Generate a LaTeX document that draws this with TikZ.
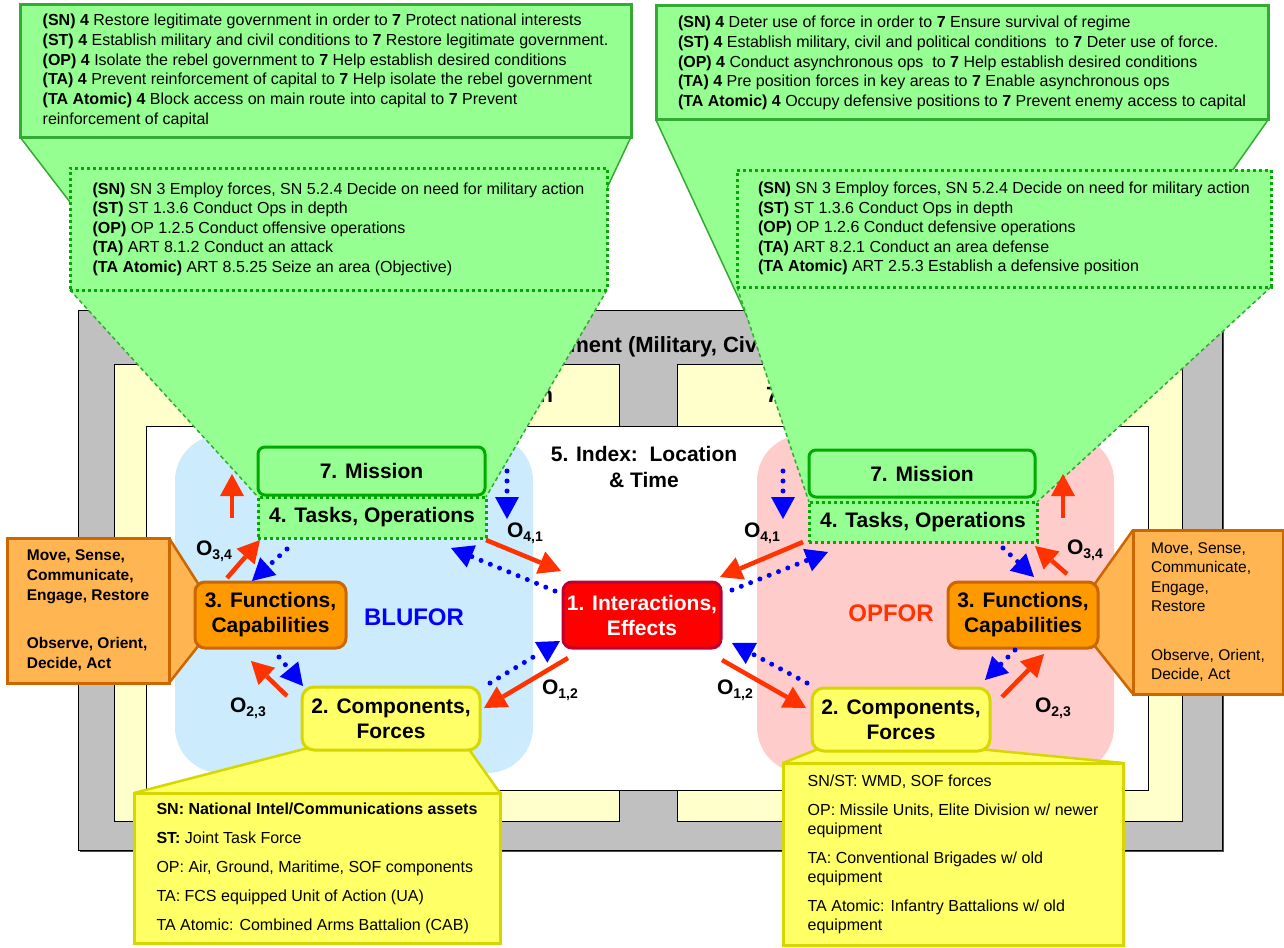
\documentclass[tikz,border=0pt]{standalone}
\usepackage{fontspec}
\setmainfont{Liberation Sans}
\usetikzlibrary{arrows.meta,calc}

\definecolor{envgray}{RGB}{192,192,192}
\definecolor{paleyellow}{RGB}{255,255,204}
\definecolor{bluezone}{RGB}{204,235,252}
\definecolor{redzone}{RGB}{255,204,204}
\definecolor{calloutgreen}{RGB}{150,255,145}
\definecolor{edgegreen}{RGB}{51,170,51}
\definecolor{boxgreen}{RGB}{0,170,0}
\definecolor{effectred}{RGB}{255,0,0}
\definecolor{effectedge}{RGB}{192,0,48}
\definecolor{funcorange}{RGB}{255,153,0}
\definecolor{orangeedge}{RGB}{204,102,0}
\definecolor{paleorange}{RGB}{255,182,82}
\definecolor{compyellow}{RGB}{255,255,102}
\definecolor{yellowedge}{RGB}{214,214,0}
\definecolor{arrowred}{RGB}{255,51,0}
\definecolor{arrowblue}{RGB}{0,0,255}

\pgfdeclarelayer{back}
\pgfdeclarelayer{wedge}
\pgfsetlayers{back,wedge,main}

\newcommand\setfs[2]{\fontsize{#1}{#2}\selectfont}
\newcommand\olab[1]{\bfseries\setfs{21}{21}O\raisebox{-4.5pt}{\setfs{14}{14}#1}}

\begin{document}
\begin{tikzpicture}[x=1pt,y=-1pt,
  every node/.style={inner sep=0pt,outer sep=0pt},
  frame/.style={draw=black,line width=1pt},
  toplbl/.style={font=\bfseries\setfs{22}{24}},
  bignum/.style={font=\bfseries\setfs{21}{25},align=center},
  missionbox/.style={bignum,draw=boxgreen,line width=3pt,fill=calloutgreen,rounded corners=7pt},
  taskbox/.style={bignum,draw=boxgreen,line width=3pt,fill=calloutgreen,dash pattern=on 3pt off 3pt},
  goalbox/.style={draw=edgegreen,line width=3pt,fill=calloutgreen,align=left,font=\setfs{16}{19.7}},
  refbox/.style={draw=boxgreen,line width=3pt,dash pattern=on 3pt off 3pt,fill=calloutgreen,align=left,font=\setfs{16}{19.5}},
  solidedge/.style={draw=edgegreen,line width=1.5pt},
  dashededge/.style={draw=edgegreen,line width=1.5pt,dash pattern=on 4pt off 3pt},
  effectbox/.style={bignum,fill=effectred,draw=effectedge,line width=3pt,rounded corners=9pt,text=white},
  funcbox/.style={bignum,fill=funcorange,draw=orangeedge,line width=3pt,rounded corners=10pt},
  capbox/.style={fill=paleorange,draw=orangeedge,line width=3pt,align=left},
  orangeline/.style={draw=orangeedge,line width=2.5pt},
  compbox/.style={bignum,fill=compyellow,draw=yellowedge,line width=3pt,rounded corners=12pt},
  forcebox/.style={fill=compyellow,draw=yellowedge,line width=3pt,align=left,font=\setfs{16}{19}},
  yellowline/.style={draw=yellowedge,line width=2.5pt},
  redarr/.style={draw=arrowred,line width=4.5pt,-{Triangle[length=22pt,width=24pt,line width=0pt]}},
  bluearr/.style={draw=arrowblue,line width=5pt,line cap=round,dash pattern=on 0pt off 10pt,
    -{Triangle[length=22pt,width=24pt,line width=0pt]}},
  olabel/.style={anchor=base west}
]
\useasboundingbox (0,0) rectangle (1284,947);

% ---------------- environment frame and nation panels ----------------
\begin{pgfonlayer}{back}
  \fill[black!70] (80,312) rectangle (1224,852);
  \draw[frame,fill=envgray] (78,310) rectangle (1222,850);
  \node[toplbl,anchor=base west] (envtitle) at (461,352) {6. Environment (Military, Civil, Economic)};
  \draw[frame,fill=paleyellow] (114,364) rectangle (619,821);
  \draw[frame,fill=paleyellow] (677,364) rectangle (1182,821);
  \node[toplbl,anchor=base east] (bluetitle) at (553,402) {Blue Coalition};
  \node[toplbl,anchor=base west] (redtitle) at (766,402) {7. Red Nation};
  \draw[frame,fill=white] (146,426) rectangle (1148,790);
  \fill[bluezone,rounded corners=46pt] (175,435) rectangle (533,773);
  \fill[redzone,rounded corners=46pt] (757,435) rectangle (1114,773);
\end{pgfonlayer}

\node[font=\bfseries\setfs{24}{24},text=arrowblue] (blufor) at (414,617) {BLUFOR};
\node[font=\bfseries\setfs{24}{24},text=arrowred] (opfor) at (891,613) {OPFOR};
\node[bignum,font=\bfseries\setfs{21}{26}] (index) at (644,467) {5. Index:~~Location\\\& Time};

% ---------------- mission / task callouts ----------------
\node[goalbox,minimum width=611pt,minimum height=132pt] (goalL) at (325.5,71) {%
\textbf{(SN) 4} Restore legitimate government in order to \textbf{7} Protect national interests\\
\textbf{(ST) 4} Establish military and civil conditions to \textbf{7} Restore legitimate government.\\
\textbf{(OP) 4} Isolate the rebel government to \textbf{7} Help establish desired conditions\\
\textbf{(TA) 4} Prevent reinforcement of capital to \textbf{7} Help isolate the rebel government\\
\textbf{(TA Atomic) 4} Block access on main route into capital to \textbf{7} Prevent\\
reinforcement of capital};

\node[goalbox,minimum width=612pt,minimum height=114pt] (goalR) at (962,63) {%
\textbf{(SN) 4} Deter use of force in order to \textbf{7} Ensure survival of regime\\
\textbf{(ST) 4} Establish military, civil and political conditions \ to \textbf{7} Deter use of force.\\
\textbf{(OP) 4} Conduct asynchronous ops \ to \textbf{7} Help establish desired conditions\\
\textbf{(TA) 4} Pre position forces in key areas to \textbf{7} Enable asynchronous ops\\
\textbf{(TA Atomic) 4} Occupy defensive positions to \textbf{7} Prevent enemy access to capital};

\node[refbox,minimum width=537pt,minimum height=122pt] (refL) at (338.5,229) {%
\textbf{(SN)} SN 3 Employ forces, SN 5.2.4 Decide on need for military action\\
\textbf{(ST)} ST 1.3.6 Conduct Ops in depth\\
\textbf{(OP)} OP 1.2.5 Conduct offensive operations\\
\textbf{(TA)} ART 8.1.2 Conduct an attack\\
\textbf{(TA Atomic)} ART 8.5.25 Seize an area (Objective)};

\node[refbox,minimum width=534pt,minimum height=117pt] (refR) at (1004,228.5) {%
\textbf{(SN)} SN 3 Employ forces, SN 5.2.4 Decide on need for military action\\
\textbf{(ST)} ST 1.3.6 Conduct Ops in depth\\
\textbf{(OP)} OP 1.2.6 Conduct defensive operations\\
\textbf{(TA)} ART 8.2.1 Conduct an area defense\\
\textbf{(TA Atomic)} ART 2.5.3 Establish a defensive position};

\node[missionbox,minimum width=227pt,minimum height=48pt] (misL) at (371.5,471) {7. Mission};
\node[taskbox,minimum width=228pt,minimum height=41pt] (taskL) at (372,517.5) {4. Tasks, Operations};
\node[missionbox,minimum width=226pt,minimum height=47pt] (misR) at (922,473.5) {7. Mission};
\node[taskbox,minimum width=228pt,minimum height=40pt] (taskR) at (923,522) {4. Tasks, Operations};

% ---------------- core nodes ----------------
\node[effectbox,minimum width=158pt,minimum height=66pt] (fx) at (642,615) {1. Interactions,\\Effects};
\node[funcbox,minimum width=151pt,minimum height=66pt] (funcL) at (270.5,615) {3. Functions,\\Capabilities};
\node[funcbox,minimum width=150pt,minimum height=66pt] (funcR) at (1023,615) {3. Functions,\\Capabilities};
\node[compbox,minimum width=178pt,minimum height=63pt] (compL) at (391,718.5) {2. Components,\\Forces};
\node[compbox,minimum width=178pt,minimum height=63pt] (compR) at (901,719.5) {2. Components,\\Forces};

\node[capbox,font=\bfseries\setfs{15.5}{20},minimum width=162pt,minimum height=145pt] (capL) at (88,610.5) {%
Move, Sense,\\Communicate,\\Engage, Restore\\[28pt]Observe, Orient,\\Decide, Act};
\node[capbox,font=\setfs{15.5}{19.3},minimum width=150pt,minimum height=164pt] (capR) at (1208,612) {%
Move, Sense,\\Communicate,\\Engage,\\Restore\\[29.5pt]Observe, Orient,\\Decide, Act};

\node[forcebox,minimum width=366pt,minimum height=150pt] (forceL) at (317,868) {%
\textbf{SN: National Intel/Communications assets}\\[10pt]
\textbf{ST:} Joint Task Force\\[10pt]
OP: Air, Ground, Maritime, SOF components\\[10pt]
TA: FCS equipped Unit of Action (UA)\\[10pt]
TA Atomic: Combined Arms Battalion (CAB)};
\node[forcebox,minimum width=340pt,minimum height=182pt] (forceR) at (953,854) {%
SN/ST: WMD, SOF forces\\[10pt]
OP: Missile Units, Elite Division w/ newer\\equipment\\[10pt]
TA: Conventional Brigades w/ old\\equipment\\[10pt]
TA Atomic: Infantry Battalions w/ old\\equipment};

% ---------------- callout pointers ----------------
\begin{pgfonlayer}{wedge}
  \fill[calloutgreen] (goalL.south west) -- (goalL.south east) -- (misL.north east) -- (misL.north west) -- cycle;
  \draw[solidedge] (goalL.south west) -- (misL.north west) (goalL.south east) -- (misL.north east);
  \fill[calloutgreen] (goalR.south west) -- (goalR.south east) -- (misR.north east) -- (misR.north west) -- cycle;
  \draw[solidedge] (goalR.south west) -- (misR.north west) (goalR.south east) -- (misR.north east);
  \fill[calloutgreen] (refL.south west) -- (refL.south east) -- (taskL.north east) -- (taskL.north west) -- cycle;
  \draw[dashededge] (refL.south west) -- (taskL.north west) (refL.south east) -- (taskL.north east);
  \fill[calloutgreen] (refR.south west) -- (refR.south east) -- (taskR.north east) -- (taskR.north west) -- cycle;
  \draw[dashededge] (refR.south west) -- (taskR.north west) (refR.south east) -- (taskR.north east);

  \fill[paleorange] (capL.north east) -- ($(funcL.north west)+(4,3)$) -- ($(funcL.south west)+(4,-3)$) -- (capL.south east) -- cycle;
  \draw[orangeline] (capL.north east) -- ($(funcL.north west)+(4,3)$) (capL.south east) -- ($(funcL.south west)+(4,-3)$);
  \fill[paleorange] (capR.north west) -- ($(funcR.north east)+(-4,3)$) -- ($(funcR.south east)+(-4,-3)$) -- (capR.south west) -- cycle;
  \draw[orangeline] (capR.north west) -- ($(funcR.north east)+(-4,3)$) (capR.south west) -- ($(funcR.south east)+(-4,-3)$);

  \fill[compyellow] (forceL.north west) -- ($(compL.south west)+(6,-2)$) -- ($(compL.south east)+(-12,-2)$) -- (forceL.north east) -- cycle;
  \draw[yellowline] (forceL.north west) -- ($(compL.south west)+(6,-2)$) (forceL.north east) -- ($(compL.south east)+(-12,-2)$);
  \fill[compyellow] (forceR.north west) -- ($(compR.south west)+(6,-2)$) -- ($(compR.south east)+(-12,-2)$) -- (forceR.north east) -- cycle;
  \draw[yellowline] (forceR.north west) -- ($(compR.south west)+(6,-2)$) (forceR.north east) -- ($(compR.south east)+(-12,-2)$);
\end{pgfonlayer}

% ---------------- observation arrows ----------------
% BLUFOR side
\coordinate (a1s) at (232,518); \coordinate (a1e) at (232,474);
\coordinate (a2s) at (227,578); \coordinate (a2e) at (260,540);
\coordinate (a3s) at (287,549); \coordinate (a3e) at (252,581);
\coordinate (a4s) at (507,471); \coordinate (a4e) at (507,519);
\coordinate (a5s) at (486,540); \coordinate (a5e) at (561,571);
\coordinate (a6s) at (555,591); \coordinate (a6e) at (451,548);
\coordinate (a7s) at (568,658); \coordinate (a7e) at (484,708);
\coordinate (a8s) at (490,683); \coordinate (a8e) at (560,641);
\coordinate (a9s) at (287,696); \coordinate (a9e) at (251,661);
\coordinate (a10s) at (279,657); \coordinate (a10e) at (303,686);
% OPFOR side
\coordinate (b1s) at (1063,518); \coordinate (b1e) at (1063,474);
\coordinate (b2s) at (1067,574); \coordinate (b2e) at (1035,546);
\coordinate (b3s) at (1003,548); \coordinate (b3e) at (1034,577);
\coordinate (b4s) at (783,471); \coordinate (b4e) at (783,519);
\coordinate (b5s) at (803,542); \coordinate (b5e) at (720,577);
\coordinate (b6s) at (732,590); \coordinate (b6e) at (828,552);
\coordinate (b7s) at (722,660); \coordinate (b7e) at (806,708);
\coordinate (b8s) at (807,683); \coordinate (b8e) at (732,643);
\coordinate (b9s) at (1002,697); \coordinate (b9e) at (1044,654);
\coordinate (b10s) at (1015,650); \coordinate (b10e) at (985,680);

\foreach \p in {a1,a2,a5,a7,a9,b1,b2,b5,b7,b9} \draw[redarr] (\p s) -- (\p e);
\foreach \p in {a3,a4,a6,a8,a10,b3,b4,b6,b8,b10} \draw[bluearr] (\p s) -- (\p e);

\node[olabel] (o34L) at (196,555) {\olab{3,4}};
\node[olabel] (o41L) at (507,537) {\olab{4,1}};
\node[olabel] (o12L) at (542,694) {\olab{1,2}};
\node[olabel] (o23L) at (230,712) {\olab{2,3}};
\node[olabel] (o41R) at (744,537) {\olab{4,1}};
\node[olabel] (o34R) at (1067,554) {\olab{3,4}};
\node[olabel] (o12R) at (717,694) {\olab{1,2}};
\node[olabel] (o23R) at (1035,712) {\olab{2,3}};
\end{tikzpicture}
\end{document}
